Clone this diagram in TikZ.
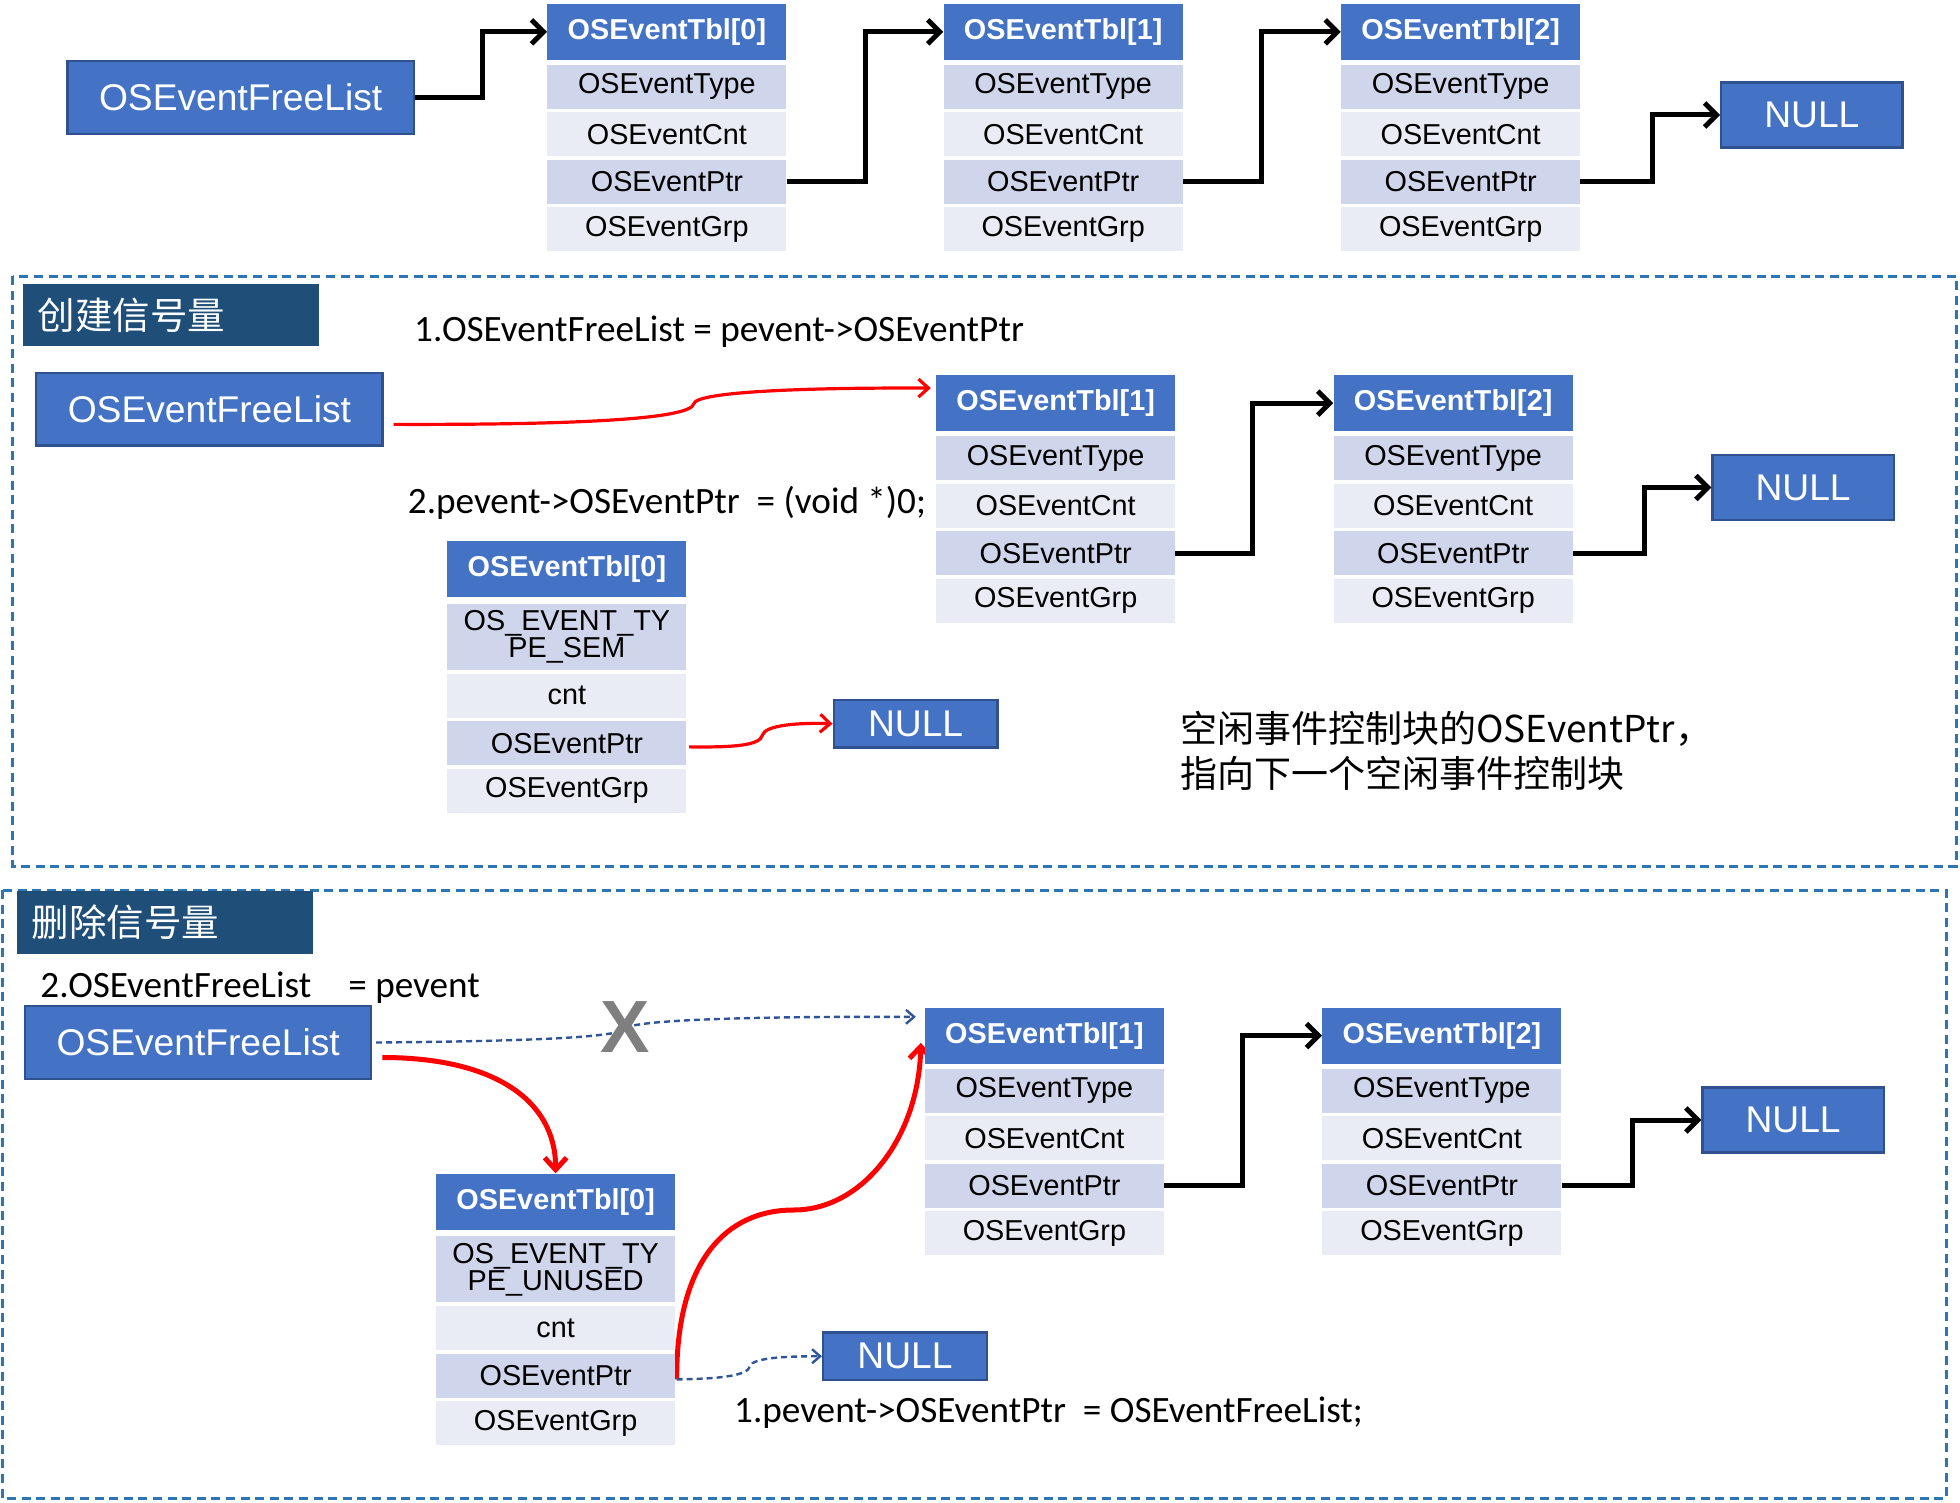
\documentclass[tikz,border=0pt]{standalone}
\usepackage{fontspec}
\setmainfont{Liberation Sans}
\newfontfamily\califont{Carlito}
\newfontfamily\cjkfont{Noto Sans CJK SC}
\usetikzlibrary{arrows.meta}
\pgfdeclarelayer{edgelayer}
\pgfdeclarelayer{nodelayer}
\pgfsetlayers{edgelayer,nodelayer,main}
\definecolor{boxblue}{HTML}{4472C4}
\definecolor{boxline}{HTML}{2F528F}
\definecolor{rowdark}{HTML}{CFD5EA}
\definecolor{rowlight}{HTML}{E9EBF5}
\definecolor{titleblue}{HTML}{1F4E79}
\definecolor{frameblue}{HTML}{2E75B6}
\definecolor{dashblue}{HTML}{2F5597}
\definecolor{crossgray}{HTML}{7F7F7F}
\tikzstyle{none}=[inner sep=0pt]
\tikzstyle{listbox}=[rectangle,fill=boxblue,draw=boxline,line width=1.2pt,text=white,font=\fontsize{18.6}{20}\selectfont,minimum width=173.1pt,minimum height=36.3pt,inner sep=0pt]
\tikzstyle{nullbox}=[listbox,minimum width=90.6pt,minimum height=32.5pt]
\tikzstyle{smallnull}=[listbox,minimum width=81.9pt,minimum height=23.8pt]
\tikzstyle{hdr}=[rectangle,fill=boxblue,text=white,font=\bfseries\fontsize{14.4}{16}\selectfont,minimum width=119.4pt,minimum height=28.1pt,inner sep=0pt]
\tikzstyle{rowa}=[rectangle,fill=rowdark,font=\fontsize{14.4}{16}\selectfont,minimum width=119.4pt,minimum height=21.9pt,inner sep=0pt]
\tikzstyle{rowb}=[rowa,fill=rowlight]
\tikzstyle{tallrow}=[rowa,minimum height=33.1pt,align=center,font=\fontsize{14.4}{13.5}\selectfont]
\tikzstyle{title}=[rectangle,fill=titleblue,text=white,font=\cjkfont\fontsize{18.75}{20}\selectfont,text width=133.1pt,align=left,minimum height=31.25pt,inner xsep=7.5pt,inner ysep=0pt,anchor=west]
\tikzstyle{code}=[inner sep=0pt,anchor=west,font=\califont\fontsize{18.6}{20}\selectfont]
\tikzstyle{note}=[inner sep=0pt,anchor=west,align=left,font=\cjkfont\fontsize{18.5}{22.5}\selectfont]
\tikzstyle{cross}=[inner sep=0pt,text=crossgray,font=\bfseries\fontsize{37}{40}\selectfont]
\tikzstyle{frame}=[draw=frameblue,line width=1.5pt,dash pattern=on 4.5pt off 2.8pt]
\tikzstyle{link}=[draw=black,line width=2.5pt,-{Straight Barb[length=6pt,width=12pt]}]
\tikzstyle{redlink}=[draw=red,line width=1.6pt,-{Straight Barb[length=5pt,width=9pt]}]
\tikzstyle{redthick}=[draw=red,line width=2.5pt,-{Straight Barb[length=6pt,width=11pt]}]
\tikzstyle{dashlink}=[draw=dashblue,line width=1.2pt,dash pattern=on 3pt off 2pt,-{Straight Barb[length=4pt,width=7pt]}]

\begin{document}
\begin{tikzpicture}[x=0.625pt,y=-0.625pt]
	\useasboundingbox (0,0) rectangle (1568,1202);
	\begin{pgfonlayer}{nodelayer}
		\node [style=listbox] (0) at (192.5, 78) {OSEventFreeList};
		\node [style=hdr] (1) at (533.5, 25.5) {OSEventTbl[0]};
		\node [style=rowa] (2) at (533.5, 69.5) {OSEventType};
		\node [style=rowb] (3) at (533.5, 107.5) {OSEventCnt};
		\node [style=rowa] (4) at (533.5, 145.5) {OSEventPtr};
		\node [style=rowb] (5) at (533.5, 183.5) {OSEventGrp};
		\node [style=hdr] (6) at (850.5, 25.5) {OSEventTbl[1]};
		\node [style=rowa] (7) at (850.5, 69.5) {OSEventType};
		\node [style=rowb] (8) at (850.5, 107.5) {OSEventCnt};
		\node [style=rowa] (9) at (850.5, 145.5) {OSEventPtr};
		\node [style=rowb] (10) at (850.5, 183.5) {OSEventGrp};
		\node [style=hdr] (11) at (1168.5, 25.5) {OSEventTbl[2]};
		\node [style=rowa] (12) at (1168.5, 69.5) {OSEventType};
		\node [style=rowb] (13) at (1168.5, 107.5) {OSEventCnt};
		\node [style=rowa] (14) at (1168.5, 145.5) {OSEventPtr};
		\node [style=rowb] (15) at (1168.5, 183.5) {OSEventGrp};
		\node [style=nullbox] (16) at (1449.5, 92) {NULL};

		\node [style=title] (17) at (18, 252) {创建信号量};
		\node [style=code] (18) at (331, 265) {1.OSEventFreeList = pevent->OSEventPtr};
		\node [style=listbox] (19) at (167.5, 327.5) {OSEventFreeList};
		\node [style=code] (20) at (326, 402) {2.pevent->OSEventPtr~~= (void *)0;};
		\node [style=hdr] (21) at (844.5, 322.5) {OSEventTbl[1]};
		\node [style=rowa] (22) at (844.5, 366.5) {OSEventType};
		\node [style=rowb] (23) at (844.5, 404.5) {OSEventCnt};
		\node [style=rowa] (24) at (844.5, 442.5) {OSEventPtr};
		\node [style=rowb] (25) at (844.5, 480.5) {OSEventGrp};
		\node [style=hdr] (26) at (1162.5, 322.5) {OSEventTbl[2]};
		\node [style=rowa] (27) at (1162.5, 366.5) {OSEventType};
		\node [style=rowb] (28) at (1162.5, 404.5) {OSEventCnt};
		\node [style=rowa] (29) at (1162.5, 442.5) {OSEventPtr};
		\node [style=rowb] (30) at (1162.5, 480.5) {OSEventGrp};
		\node [style=nullbox] (31) at (1442.5, 390) {NULL};
		\node [style=hdr] (32) at (453.5, 455.5) {OSEventTbl[0]};
		\node [style=tallrow] (33) at (453.5, 509.5) {OS\_EVENT\_TY\\PE\_SEM};
		\node [style=rowb] (34) at (453.5, 556.5) {cnt};
		\node [style=rowa] (35) at (453.5, 594.5) {OSEventPtr};
		\node [style=rowb] (36) at (453.5, 632.5) {OSEventGrp};
		\node [style=smallnull] (37) at (732.5, 579) {NULL};
		\node [style=note] (38) at (944, 601) {空闲事件控制块的OSEventPtr，\\指向下一个空闲事件控制块};

		\node [style=title] (39) at (13, 738) {删除信号量};
		\node [style=code] (40) at (32, 790) {2.OSEventFreeList\hspace{1em}= pevent};
		\node [style=listbox] (41) at (158.5, 834) {OSEventFreeList};
		\node [style=cross] (42) at (500, 822) {X};
		\node [style=hdr] (43) at (835.5, 828.5) {OSEventTbl[1]};
		\node [style=rowa] (44) at (835.5, 872.5) {OSEventType};
		\node [style=rowb] (45) at (835.5, 910.5) {OSEventCnt};
		\node [style=rowa] (46) at (835.5, 948.5) {OSEventPtr};
		\node [style=rowb] (47) at (835.5, 986.5) {OSEventGrp};
		\node [style=hdr] (48) at (1153.5, 828.5) {OSEventTbl[2]};
		\node [style=rowa] (49) at (1153.5, 872.5) {OSEventType};
		\node [style=rowb] (50) at (1153.5, 910.5) {OSEventCnt};
		\node [style=rowa] (51) at (1153.5, 948.5) {OSEventPtr};
		\node [style=rowb] (52) at (1153.5, 986.5) {OSEventGrp};
		\node [style=nullbox] (53) at (1434.5, 896) {NULL};
		\node [style=hdr] (54) at (444.5, 961.5) {OSEventTbl[0]};
		\node [style=tallrow] (55) at (444.5, 1015.5) {OS\_EVENT\_TY\\PE\_UNUSED};
		\node [style=rowb] (56) at (444.5, 1062.5) {cnt};
		\node [style=rowa] (57) at (444.5, 1100.5) {OSEventPtr};
		\node [style=rowb] (58) at (444.5, 1138.5) {OSEventGrp};
		\node [style=smallnull] (59) at (724, 1085) {NULL};
		\node [style=code] (60) at (587, 1130) {1.pevent->OSEventPtr~~= OSEventFreeList;};
	\end{pgfonlayer}
	\begin{pgfonlayer}{edgelayer}
		\draw [style=frame] (10, 221) rectangle (1565, 693);
		\draw [style=frame] (2, 712) rectangle (1557, 1199);
		\draw [style=link] (0.east) -- ++(54, 0) |- (1.west);
		\draw [style=link] (4.east) -- ++(63, 0) |- (6.west);
		\draw [style=link] (9.east) -- ++(63, 0) |- (11.west);
		\draw [style=link] (14.east) -- ++(58, 0) |- (16.west);
		\draw [style=link] (24.east) -- ++(62, 0) |- (26.west);
		\draw [style=link] (29.east) -- ++(57, 0) |- (31.west);
		\draw [style=link] (46.east) -- ++(63, 0) |- (48.west);
		\draw [style=link] (51.east) -- ++(57, 0) |- (53.west);
		\draw [style=redlink] ([shift={(8,12)}]19.east) .. controls (480, 340) and (553, 334) .. (555, 323) .. controls (557, 313) and (650, 310) .. ([shift={(-4,-12)}]21.west);
		\draw [style=redlink] ([shift={(2,3)}]35.east) .. controls (590, 598) and (608, 596) .. (610, 588) .. controls (612, 580) and (640, 578) .. (37.west);
		\draw [style=dashlink] ([shift={(3,0)}]41.east) .. controls (420, 833) and (495, 830) .. (500, 823) .. controls (505, 816) and (600, 813) .. ([shift={(-7,-15)}]43.west);
		\draw [style=redthick] ([shift={(8,12)}]41.east) .. controls (395, 846) and (444.5, 880) .. (54.north);
		\draw [style=redthick] ([shift={(1,3)}]57.east) .. controls (541, 1010) and (580, 968) .. (635, 968) .. controls (690, 968) and (735, 910) .. ([shift={(-3,-17)}]43.south west);
		\draw [style=dashlink] ([shift={(1,3)}]57.east) .. controls (580, 1103) and (598, 1100) .. (600, 1093) .. controls (602, 1086) and (630, 1085) .. (59.west);
	\end{pgfonlayer}
\end{tikzpicture}
\end{document}
